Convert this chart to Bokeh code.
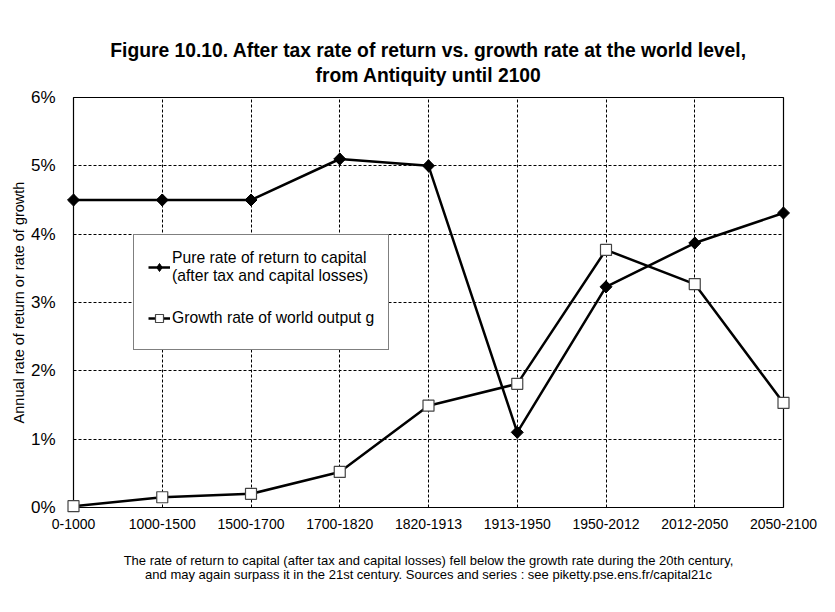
import numpy as np
from bokeh.plotting import figure
from bokeh.models import FixedTicker, Title, Legend, LegendItem, Range1d
from bokeh.embed import file_html
from bokeh.resources import INLINE

periods = ["0-1000", "1000-1500", "1500-1700", "1700-1820", "1820-1913",
           "1913-1950", "1950-2012", "2012-2050", "2050-2100"]
r_capital = [4.5, 4.5, 4.5, 5.1, 5.0, 1.1, 3.23, 3.87, 4.31]
g_output = [0.02, 0.15, 0.20, 0.52, 1.49, 1.81, 3.77, 3.27, 1.53]
y_ticks = [0, 1, 2, 3, 4, 5, 6]
y_tick_labels = ["0%", "1%", "2%", "3%", "4%", "5%", "6%"]

title_lines = ["Figure 10.10. After tax rate of return vs. growth rate at the world level,",
               "from Antiquity until 2100"]
note_lines = ["The rate of return to capital (after tax and capital losses) fell below "
              "the growth rate during the 20th century,",
              "and may again surpass it in the 21st century. Sources and series : "
              "see piketty.pse.ens.fr/capital21c"]
y_label = "Annual rate of return or rate of growth"
r_name = "Pure rate of return to capital\n(after tax and capital losses)"
g_name = "Growth rate of world output g"

FONT = "Liberation Sans"
x_pos = list(range(len(periods)))

p = figure(width=819, height=596, title=None,
           x_range=Range1d(0, len(periods) - 1), y_range=Range1d(0, 6),
           output_backend="svg", toolbar_location=None,
           min_border_left=73, min_border_right=36,
           min_border_top=97, min_border_bottom=89)

p.background_fill_color = "white"
p.border_fill_color = "white"
p.outline_line_color = "black"
p.outline_line_width = 1.2

for g in (p.xgrid, p.ygrid):
    g.grid_line_color = "black"
    g.grid_line_dash = "3 2"
    g.grid_line_width = 1

p.xaxis.ticker = FixedTicker(ticks=x_pos)
p.xaxis.major_label_overrides = {i: lab for i, lab in enumerate(periods)}
p.yaxis.ticker = FixedTicker(ticks=y_ticks)
p.yaxis.major_label_overrides = {t: lab for t, lab in zip(y_ticks, y_tick_labels)}

for ax in (p.xaxis[0], p.yaxis[0]):
    ax.axis_line_color = None
    ax.major_tick_line_color = None
    ax.minor_tick_line_color = None
    ax.major_label_text_font = FONT
    ax.major_label_text_color = "black"

p.xaxis.major_label_text_font_size = "14px"
p.xaxis.major_label_standoff = 5
# first footnote line sits under the category labels
p.xaxis.axis_label = note_lines[0]
p.xaxis.axis_label_text_font = FONT
p.xaxis.axis_label_text_font_size = "13px"
p.xaxis.axis_label_text_font_style = "normal"
p.xaxis.axis_label_text_color = "black"
p.xaxis.axis_label_standoff = 21

p.yaxis.major_label_text_font_size = "17px"
p.yaxis.major_label_standoff = 12
p.yaxis.axis_label = y_label
p.yaxis.axis_label_text_font = FONT
p.yaxis.axis_label_text_font_size = "14.5px"
p.yaxis.axis_label_text_font_style = "normal"
p.yaxis.axis_label_text_color = "black"
p.yaxis.axis_label_standoff = 1

# diamond symbol (also used as legend key), covered by the rotated-square marker
r_key = p.scatter(x_pos, r_capital, marker="diamond", size=12,
                  fill_color="black", line_color="black")
r_line = p.line(x_pos, r_capital, line_width=2.5, line_color="black", level="overlay")
r_mark = p.scatter(x_pos, r_capital, marker="square", angle=np.pi / 4, size=8.5,
                   fill_color="black", line_color="black", level="overlay")
g_line = p.line(x_pos, g_output, line_width=2.5, line_color="black", level="overlay")
g_mark = p.scatter(x_pos, g_output, marker="square", size=11,
                   fill_color="white", line_color="#444444", line_width=1.2,
                   level="overlay")

legend = Legend(items=[LegendItem(label=r_name, renderers=[r_line, r_key]),
                       LegendItem(label=g_name, renderers=[g_line, g_mark])],
                location=(60, 157), margin=0, padding=14, spacing=16,
                label_height=34, glyph_width=22, glyph_height=20,
                label_standoff=2,
                label_text_font=FONT, label_text_font_size="15.7px",
                label_text_color="black",
                border_line_color="black", border_line_width=1,
                background_fill_color="white", background_fill_alpha=1)
p.add_layout(legend)

# two centred title lines (second line nearest the frame)
p.add_layout(Title(text=title_lines[1], align="center", text_font=FONT, standoff=24,
                   text_font_size="19.3px", text_font_style="bold",
                   text_color="black"), "above")
p.add_layout(Title(text=title_lines[0], align="center", text_font=FONT, standoff=-20,
                   text_font_size="19.3px", text_font_style="bold",
                   text_color="black"), "above")
p.add_layout(Title(text=note_lines[1], align="center", text_font=FONT, standoff=-12,
                   text_font_size="13px", text_font_style="normal",
                   text_color="black"), "below")

open("out.html", "w").write(file_html(p, INLINE))
